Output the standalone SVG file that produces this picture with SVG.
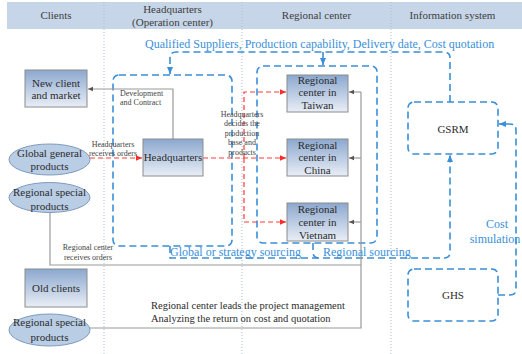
<svg xmlns="http://www.w3.org/2000/svg" width="522" height="354" viewBox="0 0 522 354">
  <style>
    text { font-family: "Liberation Serif", "Times New Roman", serif; fill: #333; }
    .hdr { font-size: 11px; text-anchor: middle; fill: #404040; }
    .lbl { font-size: 11px; text-anchor: middle; fill: #2b2b2b; }
    .sm { font-size: 8px; fill: #444; }
    .smc { font-size: 8px; fill: #444; text-anchor: middle; }
    .note { font-size: 10.5px; fill: #2b2b2b; }
    .blue { font-size: 12px; fill: #3a8fd8; }
    .col { stroke: #a9bbd2; stroke-width: 1; stroke-dasharray: 1 2; fill: none; }
    .box { fill: url(#nodeFill); stroke: #8c8c8c; stroke-width: 1; }
    .ell { fill: #b9cde5; stroke: #7f9abd; stroke-width: 1; }
    .bdash { fill: none; stroke: #3a8fd8; stroke-width: 1.6; stroke-dasharray: 7 4; }
    .rdash { fill: none; stroke: #ff3b3b; stroke-width: 1.2; stroke-dasharray: 5 3; }
    .gray { fill: none; stroke: #9a9a9a; stroke-width: 1.2; }
  </style>
  <defs>
    <linearGradient id="nodeFill" x1="0" y1="0" x2="0" y2="1">
      <stop offset="0" stop-color="#8ca8cf"/>
      <stop offset="1" stop-color="#e9eef6"/>
    </linearGradient>
    <marker id="arrBlue" markerUnits="userSpaceOnUse" markerWidth="8" markerHeight="8" viewBox="0 0 8 8" refX="7" refY="4" orient="auto">
      <path d="M0,1 L7,4 L0,7 Z" fill="#3a8fd8"/>
    </marker>
    <marker id="arrRed" markerUnits="userSpaceOnUse" markerWidth="7" markerHeight="7" viewBox="0 0 7 7" refX="6" refY="3.5" orient="auto">
      <path d="M0,0.8 L6,3.5 L0,6.2 Z" fill="#ff2a2a"/>
    </marker>
    <marker id="arrGray" markerUnits="userSpaceOnUse" markerWidth="6" markerHeight="6" viewBox="0 0 6 6" refX="5" refY="3" orient="auto">
      <path d="M0,0.8 L5,3 L0,5.2 Z" fill="#555"/>
    </marker>
  </defs>

  <rect width="522" height="354" fill="#fff"/>

  <!-- swimlane header and column dividers -->
  <g id="lanes">
    <rect x="7" y="2" width="515" height="27" fill="#c6d5e8"/>
    <line class="col" x1="104" y1="2" x2="104" y2="354"/>
    <line class="col" x1="242" y1="2" x2="242" y2="354"/>
    <line class="col" x1="391" y1="2" x2="391" y2="354"/>
    <text class="hdr" x="56" y="19">Clients</text>
    <text class="hdr" x="172.5" y="13">Headquarters</text>
    <text class="hdr" x="172.5" y="26">(Operation center)</text>
    <text class="hdr" x="316.5" y="19">Regional center</text>
    <text class="hdr" x="452.5" y="19">Information system</text>
  </g>

  <!-- grouping frames -->
  <g id="hq-frame">
    <rect class="bdash" x="113" y="75" width="119" height="171" rx="6"/>
  </g>
  <g id="regional-frame">
    <rect class="bdash" x="257" y="66" width="120" height="177" rx="6"/>
  </g>

  <!-- connectors -->
  <g id="connectors">
    <!-- information feed from GSRM -->
    <path class="bdash" d="M450,102 V58 Q450,52 444,52 H176 Q170,52 170,58 V74" marker-end="url(#arrBlue)"/>
    <path class="bdash" d="M323,52 V65" marker-end="url(#arrBlue)"/>
    <!-- sourcing back to GSRM -->
    <path class="bdash" d="M170,246 V258 H444 Q450,258 450,252 V155" marker-end="url(#arrBlue)"/>
    <path class="bdash" d="M313,243 V252 Q313,258 319,258"/>
    <!-- cost simulation loop -->
    <path class="bdash" d="M498,295 H510 Q516,295 516,289 V130 Q516,124 510,124 H499" marker-end="url(#arrBlue)"/>

    <!-- development and contract -->
    <path class="gray" d="M173,139 V89 H88" marker-end="url(#arrGray)"/>
    <!-- regional orders -->
    <path class="gray" d="M50,212 V265 H361"/>
    <path class="gray" d="M361,92 V328 H90"/>
    <path class="gray" d="M361,92 H349" marker-end="url(#arrGray)"/>
    <path class="gray" d="M361,158 H349" marker-end="url(#arrGray)"/>
    <path class="gray" d="M361,222 H349" marker-end="url(#arrGray)"/>

    <!-- headquarters orders and dispatch -->
    <path class="rdash" d="M90,158 H142" marker-end="url(#arrRed)"/>
    <path class="rdash" d="M203,158 H286" marker-end="url(#arrRed)"/>
    <path class="rdash" d="M244,158 V92 H286" marker-end="url(#arrRed)"/>
    <path class="rdash" d="M244,158 V222 H286" marker-end="url(#arrRed)"/>
  </g>

  <!-- connector labels -->
  <g id="labels">
    <text class="blue" x="145" y="48">Qualified Suppliers, Production capability, Delivery date, Cost quotation</text>
    <text class="blue" x="170" y="256">Global or strategy sourcing</text>
    <text class="blue" x="323" y="256">Regional sourcing</text>
    <text class="blue" x="497" y="228" text-anchor="middle">Cost</text>
    <text class="blue" x="495" y="243" text-anchor="middle">simulation</text>
    <text class="sm" x="120" y="96">Development</text>
    <text class="sm" x="120" y="105">and Contract</text>
    <text class="smc" x="113" y="147">Headquarters</text>
    <text class="smc" x="113" y="156">receives orders</text>
    <text class="smc" x="242" y="117">Headquarters</text>
    <text class="smc" x="242" y="126">decides the</text>
    <text class="smc" x="242" y="136">production</text>
    <text class="smc" x="242" y="145">base and</text>
    <text class="smc" x="242" y="155">products</text>
    <text class="smc" x="88" y="250">Regional center</text>
    <text class="smc" x="88" y="260">receives orders</text>
    <text class="note" x="151" y="309">Regional center leads the project management</text>
    <text class="note" x="151" y="322">Analyzing the return on cost and quotation</text>
  </g>

  <!-- client nodes -->
  <g id="new-client">
    <rect class="box" x="25" y="70" width="62" height="37"/>
    <text class="lbl" x="56" y="87">New client</text>
    <text class="lbl" x="56" y="99">and market</text>
  </g>
  <g id="global-general">
    <ellipse class="ell" cx="49.5" cy="159.5" rx="40.5" ry="15.5"/>
    <text class="lbl" x="49.5" y="157">Global general</text>
    <text class="lbl" x="49.5" y="170">products</text>
  </g>
  <g id="regional-special-1">
    <ellipse class="ell" cx="49.5" cy="197.5" rx="40.5" ry="15"/>
    <text class="lbl" x="49.5" y="196">Regional special</text>
    <text class="lbl" x="49.5" y="210">products</text>
  </g>
  <g id="old-clients">
    <rect class="box" x="25" y="269" width="62" height="38"/>
    <text class="lbl" x="56" y="292">Old clients</text>
  </g>
  <g id="regional-special-2">
    <ellipse class="ell" cx="49.5" cy="330" rx="40.5" ry="16"/>
    <text class="lbl" x="49.5" y="326">Regional special</text>
    <text class="lbl" x="49.5" y="341">products</text>
  </g>

  <!-- headquarters -->
  <g id="headquarters">
    <rect class="box" x="143" y="139" width="60" height="37"/>
    <text class="lbl" x="173" y="161">Headquarters</text>
  </g>

  <!-- regional centers -->
  <g id="rc-taiwan">
    <rect class="box" x="287" y="75" width="61" height="37"/>
    <text class="lbl" x="317.5" y="84">Regional</text>
    <text class="lbl" x="317.5" y="96">center in</text>
    <text class="lbl" x="317.5" y="109">Taiwan</text>
  </g>
  <g id="rc-china">
    <rect class="box" x="287" y="139" width="61" height="37"/>
    <text class="lbl" x="317.5" y="149">Regional</text>
    <text class="lbl" x="317.5" y="161">center in</text>
    <text class="lbl" x="317.5" y="174">China</text>
  </g>
  <g id="rc-vietnam">
    <rect class="box" x="287" y="203" width="61" height="38"/>
    <text class="lbl" x="317.5" y="213">Regional</text>
    <text class="lbl" x="317.5" y="226">center in</text>
    <text class="lbl" x="317.5" y="239">Vietnam</text>
  </g>

  <!-- information systems -->
  <g id="gsrm">
    <rect class="bdash" x="408" y="102" width="90" height="52" rx="6"/>
    <text class="lbl" x="453" y="133">GSRM</text>
  </g>
  <g id="ghs">
    <rect class="bdash" x="408" y="269" width="90" height="52" rx="6"/>
    <text class="lbl" x="453" y="299">GHS</text>
  </g>
</svg>
